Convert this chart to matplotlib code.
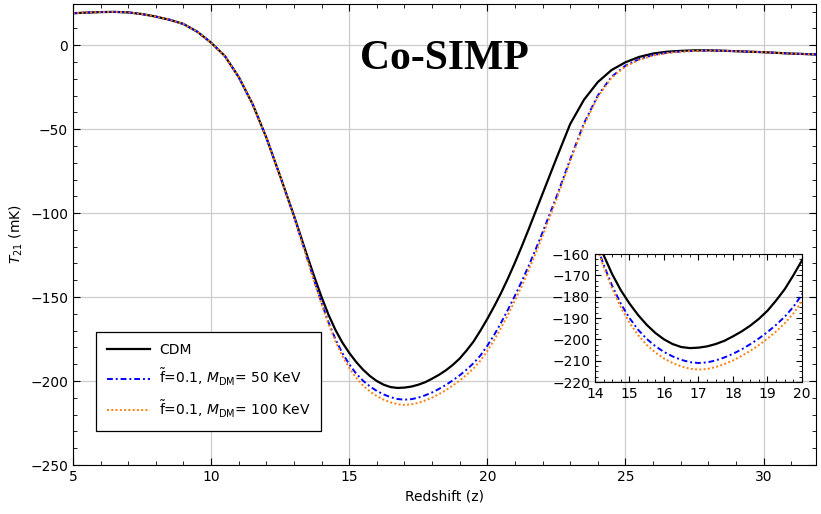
import matplotlib
matplotlib.use('Agg')
from matplotlib import pyplot as plt
from matplotlib.ticker import MultipleLocator, AutoMinorLocator
import numpy as np

# redshift grid (finer through the trough) and brightness temperatures (mK)
z = [5.0, 5.5, 6.0, 6.5, 7.0, 7.5, 8.0, 8.5, 9.0, 9.5, 10.0, 10.5, 11.0, 11.5, 12.0, 12.5, 13.0,
     13.25, 13.5, 13.75, 14.0, 14.25, 14.5, 14.75, 15.0, 15.25, 15.5, 15.75, 16.0,
     16.25, 16.5, 16.75, 17.0, 17.25, 17.5, 17.75, 18.0, 18.25, 18.5, 18.75, 19.0,
     19.25, 19.5, 19.75, 20.0, 20.25, 20.5, 20.75, 21.0, 21.25, 21.5, 21.75, 22.0,
     22.5, 23.0, 23.5, 24.0, 24.5, 25.0, 25.5, 26.0, 26.5, 27.0,
     27.5, 28.0, 28.5, 29.0, 29.5, 30.0, 30.5, 31.0, 31.5, 32.0]

t_cdm = [19.0, 19.4, 19.7, 19.8, 19.5, 18.5, 17.0, 15.1, 12.6, 8.0, 1.5, -6.5, -19.0, -35.0, -55.0, -78.0, -101.5,
         -114.0, -126.5, -138.5, -150.0, -160.5, -169.5, -177.0, -183.2, -188.6, -193.2, -197.0, -200.0,
         -202.2, -203.6, -204.1, -203.9, -203.3, -202.2, -200.7, -198.6, -196.3, -193.6, -190.4, -186.6,
         -181.8, -176.5, -170.0, -163.0, -155.5, -147.5, -138.8, -129.5, -119.7, -109.5, -99.0, -88.5,
         -67.5, -47.0, -32.5, -22.0, -14.8, -10.2, -7.0, -5.0, -3.9, -3.4,
         -3.1, -3.1, -3.3, -3.6, -3.9, -4.2, -4.6, -5.0, -5.3, -5.6]

t_50 = [19.0, 19.4, 19.7, 19.8, 19.5, 18.5, 17.0, 15.1, 12.6, 8.0, 1.5, -6.5, -19.0, -35.0, -55.0, -78.0, -102.0,
        -115.0, -128.0, -141.0, -153.5, -165.0, -175.0, -183.3, -190.0, -195.5, -199.8, -203.2, -205.9,
        -208.0, -209.6, -210.7, -211.1, -210.8, -209.9, -208.5, -206.8, -204.7, -202.3, -199.6, -196.6,
        -193.2, -189.4, -184.8, -179.0, -172.5, -165.2, -157.4, -149.2, -140.5, -131.3, -121.6, -111.5,
        -90.5, -68.0, -46.5, -30.0, -18.8, -12.2, -8.3, -5.9, -4.5, -3.8,
        -3.4, -3.2, -3.3, -3.6, -3.9, -4.2, -4.6, -5.0, -5.3, -5.6]

t_100 = [19.0, 19.4, 19.7, 19.8, 19.5, 18.5, 17.0, 15.1, 12.6, 8.0, 1.5, -6.5, -19.0, -35.0, -55.0, -78.0, -102.0,
         -115.3, -128.5, -141.7, -154.3, -166.0, -176.3, -185.0, -192.2, -198.0, -202.6, -206.2, -209.0,
         -211.1, -212.7, -213.8, -214.2, -213.9, -213.0, -211.6, -209.9, -207.8, -205.4, -202.7, -199.7,
         -196.3, -192.5, -187.9, -182.1, -175.6, -168.3, -160.4, -152.1, -143.3, -133.9, -124.0, -113.7,
         -92.0, -69.2, -47.5, -30.8, -19.4, -12.7, -8.7, -6.2, -4.7, -3.9,
         -3.4, -3.2, -3.3, -3.6, -3.9, -4.2, -4.6, -5.0, -5.3, -5.6]

labels = ["CDM",
          r"$\tilde{\mathrm{f}}$=0.1, $M_{\rm DM}$= 50 KeV",
          r"$\tilde{\mathrm{f}}$=0.1, $M_{\rm DM}$= 100 KeV"]

plt.rcParams['font.size'] = 10

fig = plt.figure(figsize=(8.21, 5.14), dpi=100)
ax = fig.add_axes([0.0889, 0.0953, 0.905, 0.8969])

def drawCurves(a):
	a.plot(z, t_cdm, color='black', lw=1.6, label=labels[0])
	a.plot(z, t_50, color='blue', lw=1.4, ls=(0, (3, 1.5, 1, 1.5)), label=labels[1])
	a.plot(z, t_100, color='#ff7f0e', lw=1.4, ls=(0, (1, 1.2)), label=labels[2])

drawCurves(ax)
ax.set_xlim(5, 31.9)
ax.set_ylim(-250, 24.5)
ax.xaxis.set_major_locator(MultipleLocator(5))
ax.xaxis.set_minor_locator(MultipleLocator(1))
ax.yaxis.set_major_locator(MultipleLocator(50))
ax.yaxis.set_minor_locator(MultipleLocator(10))
ax.tick_params(which='both', direction='in', top=True, right=True)
ax.tick_params(which='major', length=5)
ax.tick_params(which='minor', length=3)
ax.grid(True, which='major', color='#cccccc', lw=0.9)
ax.set_axisbelow(True)
ax.set_xlabel("Redshift (z)")
ax.set_ylabel(r"$T_{21}$ (mK)")

leg = ax.legend(loc='lower left', bbox_to_anchor=(0.022, 0.059), fancybox=False,
                framealpha=1, edgecolor='black', borderpad=0.8, labelspacing=0.75,
                handlelength=3.1, handletextpad=0.6, fontsize=10)
leg.get_frame().set_linewidth(0.9)

ax.text(0.5, 0.88, "Co-SIMP", transform=ax.transAxes, ha='center', va='center',
        fontsize=30, fontweight='bold', family='Liberation Serif')

# inset zoom on the trough, transparent so the main grid shows through
axin = fig.add_axes([0.7247, 0.2568, 0.2521, 0.249])
axin.patch.set_alpha(0)
drawCurves(axin)
axin.set_xlim(14, 20)
axin.set_ylim(-220, -160)
axin.xaxis.set_major_locator(MultipleLocator(1))
axin.xaxis.set_minor_locator(AutoMinorLocator(4))
axin.yaxis.set_major_locator(MultipleLocator(10))
axin.yaxis.set_minor_locator(AutoMinorLocator(4))
axin.tick_params(which='both', direction='in', top=True, right=True)
axin.tick_params(which='major', length=4, labelsize=10)
axin.tick_params(which='minor', length=2)

plt.savefig("out.png", dpi=100)
